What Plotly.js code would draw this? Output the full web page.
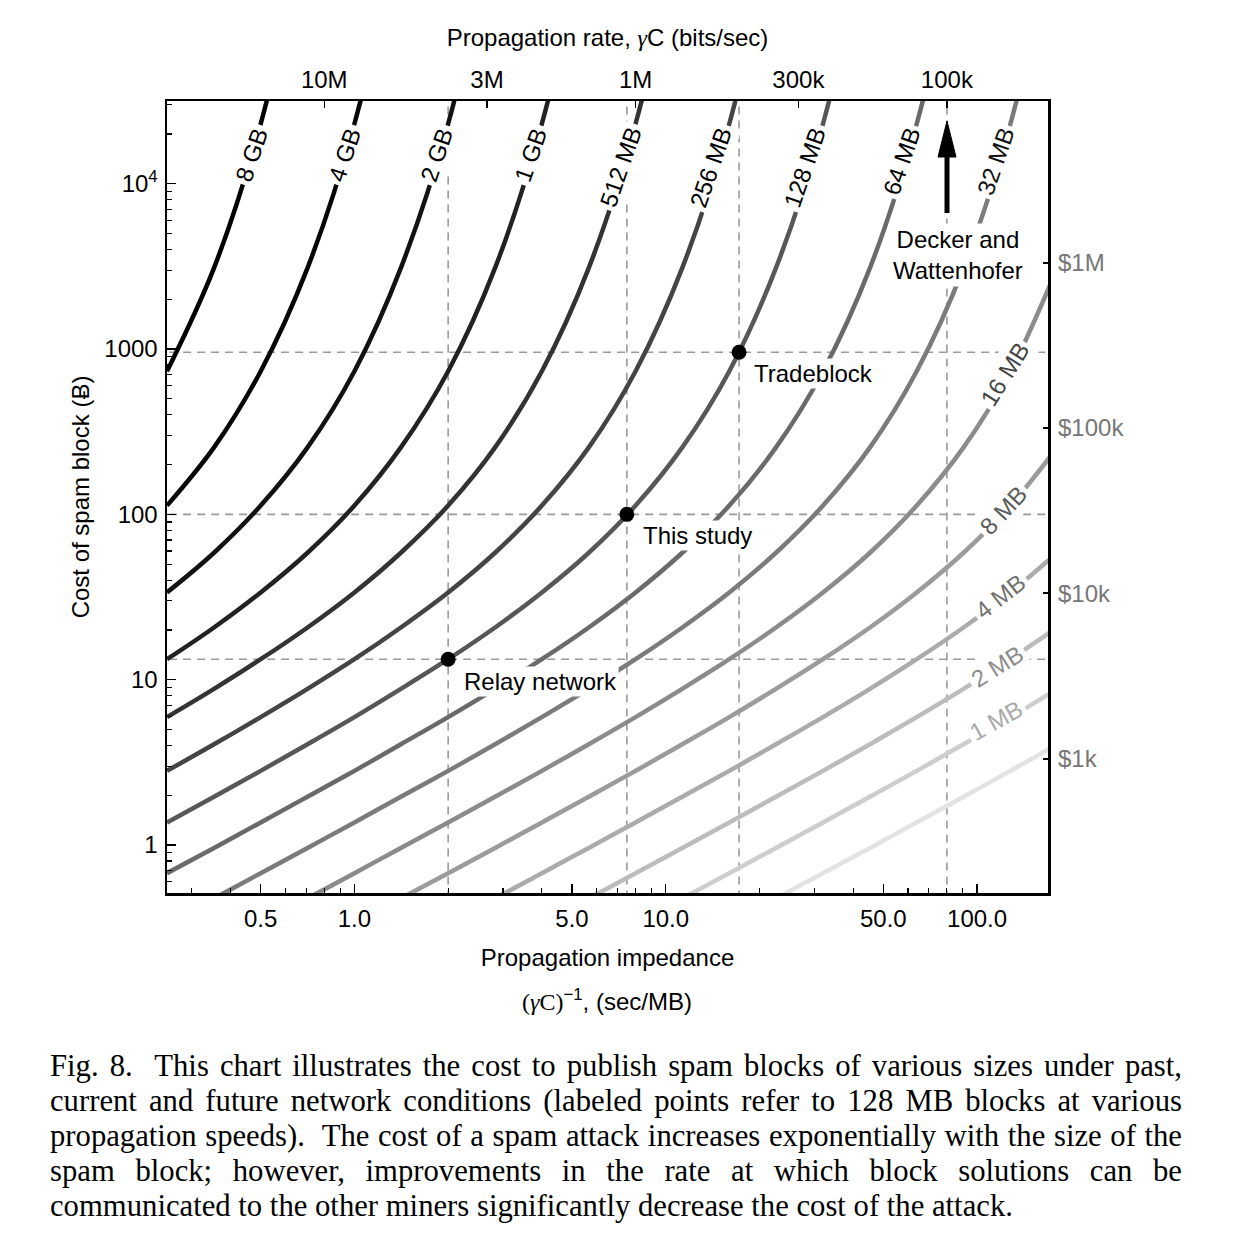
<!DOCTYPE html>
<html>
<head>
<meta charset="utf-8">
<script src="https://cdn.plot.ly/plotly-3.0.1.min.js"></script>
<style>
  body { margin: 0; background: #fff; }
  #chart { position: absolute; left: 0; top: 0; width: 1234px; height: 1040px; }
  #caption { position: absolute; left: 50px; top: 1049px; width: 1132px;
    font-family: 'Liberation Serif', 'Times New Roman', serif; font-size: 30.7px; color: #000; }
  #caption div { height: 35px; line-height: 35px; text-align: justify; text-align-last: justify; overflow: hidden; }
  #caption div.last { text-align: left; text-align-last: left; }
</style>
</head>
<body>
<div id="chart"></div>
<div id="caption">
  <div>Fig. 8.&nbsp; This chart illustrates the cost to publish spam blocks of various sizes under past,</div>
  <div>current and future network conditions (labeled points refer to 128 MB blocks at various</div>
  <div>propagation speeds).&nbsp; The cost of a spam attack increases exponentially with the size of the</div>
  <div>spam block; however, improvements in the rate at which block solutions can be</div>
  <div class="last">communicated to the other miners significantly decrease the cost of the attack.</div>
</div>
<script>
// ---------------- data ----------------
// propagation impedance grid, sec/MB
const impedance = [0.25, 0.354, 0.5, 0.707, 1, 1.41, 2, 2.83, 4, 5.66, 8, 11.3, 16, 22.6, 32, 45.3, 64, 90.5, 128, 181];

// cost of spam block (BTC) for each block size, aligned with the impedance grid
const cost_0_5MB = [0.00521, 0.00737, 0.0104, 0.0147, 0.0208, 0.0295, 0.0417, 0.0590, 0.0835, 0.118, 0.167, 0.237, 0.336, 0.476, 0.676, 0.961, 1.37, 1.96, 2.81, 4.07];
const cost_1MB   = [0.0104, 0.0147, 0.0208, 0.0295, 0.0417, 0.0590, 0.0835, 0.118, 0.167, 0.237, 0.336, 0.476, 0.676, 0.961, 1.37, 1.96, 2.81, 4.07, 5.94, 8.80];
const cost_2MB   = [0.0208, 0.0295, 0.0417, 0.0590, 0.0835, 0.118, 0.167, 0.237, 0.336, 0.476, 0.676, 0.961, 1.37, 1.96, 2.81, 4.07, 5.94, 8.80, 13.3, 20.7];
const cost_4MB   = [0.0417, 0.0590, 0.0835, 0.118, 0.167, 0.237, 0.336, 0.476, 0.676, 0.961, 1.37, 1.96, 2.81, 4.07, 5.94, 8.80, 13.3, 20.7, 33.7, 58.6];
const cost_8MB   = [0.0835, 0.118, 0.167, 0.237, 0.336, 0.476, 0.676, 0.961, 1.37, 1.96, 2.81, 4.07, 5.94, 8.80, 13.3, 20.7, 33.7, 58.6, 113, 254];
const cost_16MB  = [0.167, 0.237, 0.336, 0.476, 0.676, 0.961, 1.37, 1.96, 2.81, 4.07, 5.94, 8.80, 13.3, 20.7, 33.7, 58.6, 113, 254, 734, 3096];
const cost_32MB  = [0.336, 0.476, 0.676, 0.961, 1.37, 1.96, 2.81, 4.07, 5.94, 8.80, 13.3, 20.7, 33.7, 58.6, 113, 254, 734, 3096, 23030, 389700];
const cost_64MB  = [0.676, 0.961, 1.37, 1.96, 2.81, 4.07, 5.94, 8.80, 13.3, 20.7, 33.7, 58.6, 113, 254, 734, 3096, 23030, 389700];
const cost_128MB = [1.37, 1.96, 2.81, 4.07, 5.94, 8.80, 13.3, 20.7, 33.7, 58.6, 113, 254, 734, 3096, 23030, 389700];
const cost_256MB = [2.81, 4.07, 5.94, 8.80, 13.3, 20.7, 33.7, 58.6, 113, 254, 734, 3096, 23030, 389700];
const cost_512MB = [5.94, 8.80, 13.3, 20.7, 33.7, 58.6, 113, 254, 734, 3096, 23030, 389700];
const cost_1GB   = [13.3, 20.7, 33.7, 58.6, 113, 254, 734, 3096, 23030, 389700];
const cost_2GB   = [33.7, 58.6, 113, 254, 734, 3096, 23030, 389700];
const cost_4GB   = [113, 254, 734, 3096, 23030, 389700];
const cost_8GB   = [734, 3096, 23030, 389700];

const blockSizeLabels = ['0.5 MB', '1 MB', '2 MB', '4 MB', '8 MB', '16 MB', '32 MB', '64 MB', '128 MB', '256 MB', '512 MB', '1 GB', '2 GB', '4 GB', '8 GB'];
const blockCosts = [cost_0_5MB, cost_1MB, cost_2MB, cost_4MB, cost_8MB, cost_16MB, cost_32MB, cost_64MB, cost_128MB, cost_256MB, cost_512MB, cost_1GB, cost_2GB, cost_4GB, cost_8GB];

// labeled points (128 MB blocks)
const pointNames = ['Relay network', 'This study', 'Tradeblock'];
const pointImpedance = [2.0, 7.5, 17.2];
const pointCost = [13.3, 100, 955];
const deckerImpedance = 80;

// axis ticks
const impTickVals = [0.5, 1, 5, 10, 50, 100];
const impTickText = ['0.5', '1.0', '5.0', '10.0', '50.0', '100.0'];
const costTickVals = [1, 10, 100, 1000, 10000];
const costTickText = ['1', '10', '100', '1000', '10<sup>4</sup>'];
const rateTickVals = [1e7, 3e6, 1e6, 3e5, 1e5];      // bits/sec
const rateTickText = ['10M', '3M', '1M', '300k', '100k'];
const usdTickVals = [1e3, 1e4, 1e5, 1e6];
const usdTickText = ['$1k', '$10k', '$100k', '$1M'];
const btcPriceUSD = 300;
const bitsPerMB = 8e6;

// ---------------- styles / positions ----------------
const curveColors = ['#e3e3e3', '#cdcdcd', '#bcbcbc', '#ababab', '#9b9b9b', '#8b8b8b', '#7b7b7b', '#6a6a6a', '#575757', '#444444', '#333333', '#222222', '#121212', '#060606', '#000000'];
const labelStyle = {
  '1 MB':   {px: 996, py: 720, angle: -29, color: '#a8a8a8'},
  '2 MB':   {px: 997, py: 666, angle: -32, color: '#8c8c8c'},
  '4 MB':   {px: 1000, py: 596, angle: -38, color: '#707070'},
  '8 MB':   {px: 1003, py: 510, angle: -47, color: '#5a5a5a'},
  '16 MB':  {px: 1005, py: 375, angle: -58, color: '#444444'},
  '32 MB':  {px: 996, py: 162, angle: -71, color: '#111'},
  '64 MB':  {px: 902, py: 162, angle: -71, color: '#000'},
  '128 MB': {px: 805, py: 168, angle: -71, color: '#000'},
  '256 MB': {px: 711, py: 168, angle: -71, color: '#000'},
  '512 MB': {px: 620, py: 167, angle: -71, color: '#000'},
  '1 GB':   {px: 530, py: 155, angle: -71, color: '#000'},
  '2 GB':   {px: 436, py: 155, angle: -71, color: '#000'},
  '4 GB':   {px: 344, py: 155, angle: -71, color: '#000'},
  '8 GB':   {px: 251, py: 155, angle: -71, color: '#000'}
};
const pointLabelPos = [{px: 462, py: 681}, {px: 641, py: 535}, {px: 752, py: 373}];

const PL = 167, PR = 1048, PT = 101, PB = 893;
const fx = p => (p - PL) / (PR - PL);
const fy = p => (PB - p) / (PB - PT);

const xRange = [Math.log10(0.25), Math.log10(169)];
const yRange = [-0.29, 4.5];

function minorVals(lo, hi) {
  const out = [];
  for (let k = lo; k <= hi; k++) for (let m = 2; m <= 9; m++) out.push(m * Math.pow(10, k));
  return out;
}

// ---------------- traces ----------------
const traces = [];
const dashStyle = {color: '#9a9a9a', width: 1.6, dash: '8px,6px'};
pointImpedance.forEach((z, i) => {
  traces.push({x: [z, z], y: [0.1, 1e6], mode: 'lines', line: dashStyle, hoverinfo: 'skip', showlegend: false});
  traces.push({x: [0.1, 1000], y: [pointCost[i], pointCost[i]], mode: 'lines', line: dashStyle, hoverinfo: 'skip', showlegend: false});
});
traces.push({x: [deckerImpedance, deckerImpedance], y: [0.1, 1e6], mode: 'lines', line: dashStyle, hoverinfo: 'skip', showlegend: false});

blockCosts.forEach((c, i) => {
  traces.push({
    x: impedance.slice(0, c.length), y: c, name: blockSizeLabels[i],
    mode: 'lines', line: {color: curveColors[i], width: 4.5, shape: 'spline', smoothing: 1},
    hoverinfo: 'skip', showlegend: false
  });
});

traces.push({x: pointImpedance, y: pointCost, mode: 'markers', marker: {color: '#000', size: 15}, showlegend: false, hoverinfo: 'skip'});
// invisible copy to activate the secondary (top / right) axes
traces.push({x: pointImpedance, y: pointCost, xaxis: 'x2', yaxis: 'y2', mode: 'markers', marker: {opacity: 0}, showlegend: false, hoverinfo: 'skip'});

// ---------------- annotations ----------------
const annotations = [];
blockSizeLabels.forEach(lbl => {
  const s = labelStyle[lbl];
  if (!s) return;
  annotations.push({xref: 'paper', yref: 'paper', x: fx(s.px), y: fy(s.py), text: lbl, showarrow: false,
    textangle: s.angle, font: {size: 24, color: s.color}, bgcolor: '#fff', borderpad: 3, xanchor: 'center', yanchor: 'middle'});
});
pointNames.forEach((n, i) => {
  annotations.push({xref: 'paper', yref: 'paper', x: fx(pointLabelPos[i].px), y: fy(pointLabelPos[i].py), text: n, showarrow: false,
    font: {size: 24, color: '#000'}, bgcolor: '#fff', borderpad: 1, xanchor: 'left', yanchor: 'middle'});
});
annotations.push({xref: 'paper', yref: 'paper', x: fx(958), y: fy(255), text: 'Decker and<br>Wattenhofer', showarrow: false,
  font: {size: 24, color: '#000'}, bgcolor: '#fff', borderpad: 2, xanchor: 'center', yanchor: 'middle'});
// second line of the bottom axis title
annotations.push({xref: 'paper', yref: 'paper', x: fx(607), y: fy(1000), xanchor: 'center', yanchor: 'middle', showarrow: false,
  text: "<span style=\"font-family:'Liberation Serif'\">(<i>γ</i>C)</span><sup>−1</sup>, (sec/MB)", font: {size: 24, color: '#000'}});

// arrow for "Decker and Wattenhofer" (pixel positions -> paper)
const ax0 = fx(947);
const shapes = [
  {type: 'line', xref: 'paper', yref: 'paper', x0: ax0, x1: ax0, y0: fy(213), y1: fy(150), line: {color: '#000', width: 5}},
  {type: 'path', xref: 'paper', yref: 'paper', fillcolor: '#000', line: {color: '#000', width: 1},
   path: `M ${fx(938)} ${fy(157)} L ${fx(956)} ${fy(157)} L ${ax0} ${fy(121)} Z`}
];

const baseFont = {family: "'Liberation Sans', Arial, Helvetica, sans-serif", size: 24, color: '#000'};

const layout = {
  width: 1234, height: 1040,
  margin: {l: PL, r: 1234 - PR, t: PT, b: 1040 - PB},
  paper_bgcolor: '#fff', plot_bgcolor: '#fff',
  font: baseFont, showlegend: false,
  xaxis: {
    type: 'log', range: xRange, tickmode: 'array', tickvals: impTickVals, ticktext: impTickText,
    ticks: 'inside', ticklen: 9, tickwidth: 1.5, tickcolor: '#000', ticklabelstandoff: 3,
    minor: {tickmode: 'array', tickvals: minorVals(-1, 2), ticks: 'inside', ticklen: 5, tickwidth: 1.2, tickcolor: '#000', showgrid: false},
    showline: true, linewidth: 2.5, linecolor: '#000', mirror: true, showgrid: false, zeroline: false,
    tickfont: {size: 24},
    title: {text: 'Propagation impedance', font: {size: 24}, standoff: 18}
  },
  yaxis: {
    type: 'log', range: yRange, tickmode: 'array', tickvals: costTickVals, ticktext: costTickText,
    ticks: 'inside', ticklen: 9, tickwidth: 1.5, tickcolor: '#000', ticklabelstandoff: 2,
    minor: {tickmode: 'array', tickvals: minorVals(-1, 4), ticks: 'inside', ticklen: 5, tickwidth: 1.2, tickcolor: '#000', showgrid: false},
    showline: true, linewidth: 2.5, linecolor: '#000', mirror: true, showgrid: false, zeroline: false,
    tickfont: {size: 24},
    title: {text: 'Cost of spam block (Ƀ)', font: {size: 24}, standoff: 8}
  },
  xaxis2: {
    type: 'log', range: xRange, overlaying: 'x', side: 'top', anchor: 'y2',
    tickmode: 'array', tickvals: rateTickVals.map(r => bitsPerMB / r), ticktext: rateTickText,
    ticks: 'inside', ticklen: 7, tickwidth: 1.5, tickcolor: '#000', ticklabelstandoff: 7,
    showline: false, showgrid: false, zeroline: false, tickfont: {size: 24},
    title: {text: "Propagation rate, <span style=\"font-family:'Liberation Serif'\"><i>γ</i></span>C (bits/sec)", font: {size: 24}, standoff: 12}
  },
  yaxis2: {
    type: 'log', range: yRange, overlaying: 'y', side: 'right', anchor: 'x2',
    tickmode: 'array', tickvals: usdTickVals.map(v => v / btcPriceUSD), ticktext: usdTickText,
    ticks: 'inside', ticklen: 5, tickwidth: 2, tickcolor: '#000', ticklabelstandoff: 9,
    showline: false, showgrid: false, zeroline: false, tickfont: {size: 24, color: '#777'}
  },
  annotations: annotations,
  shapes: shapes
};

Plotly.newPlot('chart', traces, layout, {displayModeBar: false, staticPlot: true});
</script>
</body>
</html>
